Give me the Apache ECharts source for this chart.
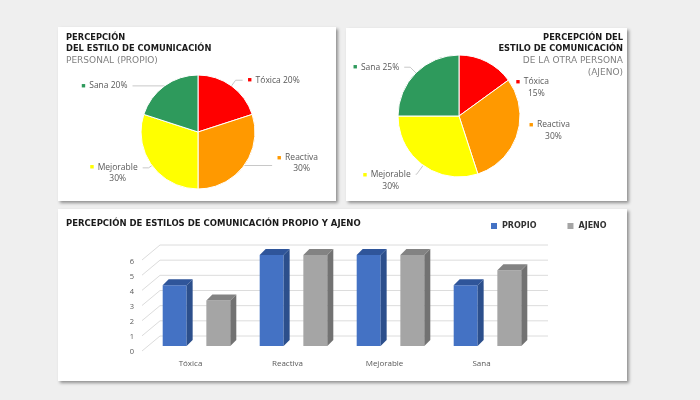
<!DOCTYPE html>
<html>
<head>
<meta charset="utf-8">
<script src="https://cdn.jsdelivr.net/npm/echarts/dist/echarts.min.js"></script>
<style>
  html, body { margin: 0; padding: 0; background: #efefef; }
  #main { width: 700px; height: 400px; }
</style>
</head>
<body>
<div id="main"></div>
<script>
var estilos = ['Tóxica', 'Reactiva', 'Mejorable', 'Sana'];
var coloresEstilo = ['#ff0000', '#ff9900', '#ffff00', '#2e9a5c'];
var pctPropio = [20, 30, 30, 20];
var pctAjeno = [15, 30, 30, 25];
var barPropio = [4, 6, 6, 4];
var barAjeno = [3, 6, 6, 5];
var yTicks = [0, 1, 2, 3, 4, 5, 6];

var fontBold = 'DejaVu Sans';
var fontText = 'Open Sans';

var myChart = echarts.init(document.getElementById('main'));

// estilos de texto de las etiquetas (cuadrito de color + texto)
var keyRich = {};
for (var i = 0; i < coloresEstilo.length; i++) {
    keyRich['k' + i] = { color: coloresEstilo[i], fontSize: 7, width: 8, align: 'left' };
}
keyRich.s = { width: 8, align: 'left' };
keyRich.t = { color: '#595959', fontSize: 8.5, fontFamily: fontText, lineHeight: 11, align: 'left' };
keyRich.c = { color: '#595959', fontSize: 8.5, fontFamily: fontText, lineHeight: 11, align: 'center' };

// ajustes de cada etiqueta: [largo radial, largo horizontal, mostrar linea, dos lineas, dy]
function pieSeries(values, center, radius, tweaks) {
    return {
        type: 'pie',
        center: center,
        radius: radius,
        startAngle: 90,
        clockwise: true,
        silent: true,
        data: estilos.map(function (name, i) {
            var t = tweaks[i];
            return {
                name: name,
                value: values[i],
                itemStyle: { color: coloresEstilo[i] },
                labelLine: { show: t[2], length: t[0], length2: t[1] }
            };
        }),
        label: {
            fontFamily: fontText,
            rich: keyRich,
            formatter: function (p) {
                if (tweaks[p.dataIndex][3]) {
                    return '{k' + p.dataIndex + '|■}{t|' + p.name + '}\n{s|}{c|' + p.value + '%}';
                }
                return '{k' + p.dataIndex + '|■}{t|' + p.name + ' ' + p.value + '%}';
            }
        },
        labelLayout: function (p) {
            return { dy: tweaks[p.dataIndex][4], labelLinePoints: p.labelLinePoints };
        },
        labelLine: { lineStyle: { color: '#c8c8c8', width: 1 }, minTurnAngle: 0, maxSurfaceAngle: 180 },
        itemStyle: { borderColor: '#fff', borderWidth: 1 }
    };
}

function bar3d(ratio, front, side, top) {
    return function (params, api) {
        var base = api.coord([api.value(0), 0]);
        var head = api.coord([api.value(0), api.value(1)]);
        var band = api.size([1, 0])[0];
        var w = band * 0.247;
        var cx = base[0] + ratio * band;
        var x0 = cx - w / 2, x1 = cx + w / 2;
        var dx = 6, dy = -6;
        return {
            type: 'group',
            children: [
                { type: 'rect', shape: { x: x0, y: head[1], width: w, height: base[1] - head[1] }, style: { fill: front } },
                { type: 'polygon', shape: { points: [[x1, head[1]], [x1 + dx, head[1] + dy], [x1 + dx, base[1] + dy], [x1, base[1]]] }, style: { fill: side } },
                { type: 'polygon', shape: { points: [[x0, head[1]], [x0 + dx, head[1] + dy], [x1 + dx, head[1] + dy], [x1, head[1]]] }, style: { fill: top } }
            ]
        };
    };
}

// lineas de la pared del fondo
function gridWall(params, api) {
    var cs = params.coordSys;
    var y = api.coord([0, api.value(1)])[1];
    return {
        type: 'polyline',
        shape: { points: [[cs.x - 6, y + 5], [cs.x + 12, y - 10], [cs.x + cs.width + 12, y - 10]] },
        style: { stroke: '#dcdcdc', lineWidth: 1, fill: null }
    };
}

var panelStyle = { fill: '#fff', shadowBlur: 3, shadowOffsetX: 2, shadowOffsetY: 2, shadowColor: 'rgba(0,0,0,0.4)' };
var titleRich = {
    b: { fontFamily: fontBold, fontWeight: 'bold', fontSize: 8.3, color: '#1a1a1a', lineHeight: 11.5 },
    r: { fontFamily: fontBold, fontWeight: 'normal', fontSize: 9, color: '#7f7f7f', lineHeight: 11.5 },
    br: { fontFamily: fontBold, fontWeight: 'bold', fontSize: 8.3, color: '#1a1a1a', lineHeight: 11.5, align: 'right' },
    rr: { fontFamily: fontBold, fontWeight: 'normal', fontSize: 9, color: '#7f7f7f', lineHeight: 11.5, align: 'right' }
};

var option = {
    backgroundColor: '#efefef',
    animation: false,
    graphic: [
        { type: 'rect', z: -10, shape: { x: 58, y: 27, width: 278, height: 174 }, style: panelStyle },
        { type: 'rect', z: -10, shape: { x: 346, y: 28, width: 281, height: 173 }, style: panelStyle },
        { type: 'rect', z: -10, shape: { x: 58, y: 209, width: 569, height: 172 }, style: panelStyle }
    ],
    title: [
        {
            left: 66, top: 32, padding: 0,
            text: '{b|PERCEPCIÓN}\n{b|DEL ESTILO DE COMUNICACIÓN}\n{r|PERSONAL (PROPIO)}',
            textStyle: { rich: titleRich }
        },
        {
            right: 77, top: 32, padding: 0,
            text: '{br|PERCEPCIÓN DEL}\n{br|ESTILO DE COMUNICACIÓN}\n{rr|DE LA OTRA PERSONA}\n{rr|(AJENO)}',
            textStyle: { rich: titleRich }
        },
        {
            left: 66, top: 219, padding: 0,
            text: 'PERCEPCIÓN DE ESTILOS DE COMUNICACIÓN PROPIO Y AJENO',
            textStyle: { fontFamily: fontBold, fontWeight: 'bold', fontSize: 8.5, color: '#1a1a1a' }
        }
    ],
    legend: {
        left: 491, top: 222, padding: 0,
        itemWidth: 6, itemHeight: 6, itemGap: 31,
        icon: 'rect',
        data: ['PROPIO', 'AJENO'],
        textStyle: { fontFamily: fontBold, fontWeight: 'bold', fontSize: 8, color: '#333' }
    },
    grid: [
        { left: 148, right: 164, top: 255, bottom: 54 },
        { left: 142, right: 170, top: 262, bottom: 48 }
    ],
    xAxis: [
        { type: 'category', gridIndex: 0, data: estilos, show: false },
        {
            type: 'category', gridIndex: 1, data: estilos,
            axisLine: { show: false }, axisTick: { show: false },
            axisLabel: { margin: 8, color: '#595959', fontSize: 8, fontFamily: fontText }
        }
    ],
    yAxis: [
        { type: 'value', gridIndex: 0, min: 0, max: 6, interval: 1, show: false },
        {
            type: 'value', gridIndex: 1, min: 0, max: 6, interval: 1,
            axisLine: { show: false }, axisTick: { show: false }, splitLine: { show: false },
            axisLabel: { margin: 8, color: '#595959', fontSize: 7.5, fontFamily: fontText }
        }
    ],
    series: [
        pieSeries(pctPropio, [198, 132], 57, [
            [7, 7, true, false, 0],
            [0, 28, true, true, -2],
            [4, 6, true, true, 5.5],
            [0, 32, true, false, 0]
        ]),
        pieSeries(pctAjeno, [459, 116], 61, [
            [0, 24, false, true, 26],
            [0, 7, false, true, -4],
            [11, 1, true, true, 6.5],
            [8, 6, true, false, 0]
        ]),
        {
            type: 'custom', name: 'pared', xAxisIndex: 0, yAxisIndex: 0, z: 1, silent: true,
            renderItem: gridWall,
            data: yTicks.map(function (v) { return [0, v]; })
        },
        {
            type: 'custom', name: 'PROPIO', xAxisIndex: 0, yAxisIndex: 0, z: 3,
            itemStyle: { color: '#4472c4' },
            renderItem: bar3d(-0.225, '#4472c4', '#2c4f8c', '#2f559a'),
            data: barPropio.map(function (v, i) { return [i, v]; })
        },
        {
            type: 'custom', name: 'AJENO', xAxisIndex: 0, yAxisIndex: 0, z: 3,
            itemStyle: { color: '#a5a5a5' },
            renderItem: bar3d(0.225, '#a5a5a5', '#727272', '#838383'),
            data: barAjeno.map(function (v, i) { return [i, v]; })
        }
    ]
};

myChart.setOption(option);
</script>
</body>
</html>
